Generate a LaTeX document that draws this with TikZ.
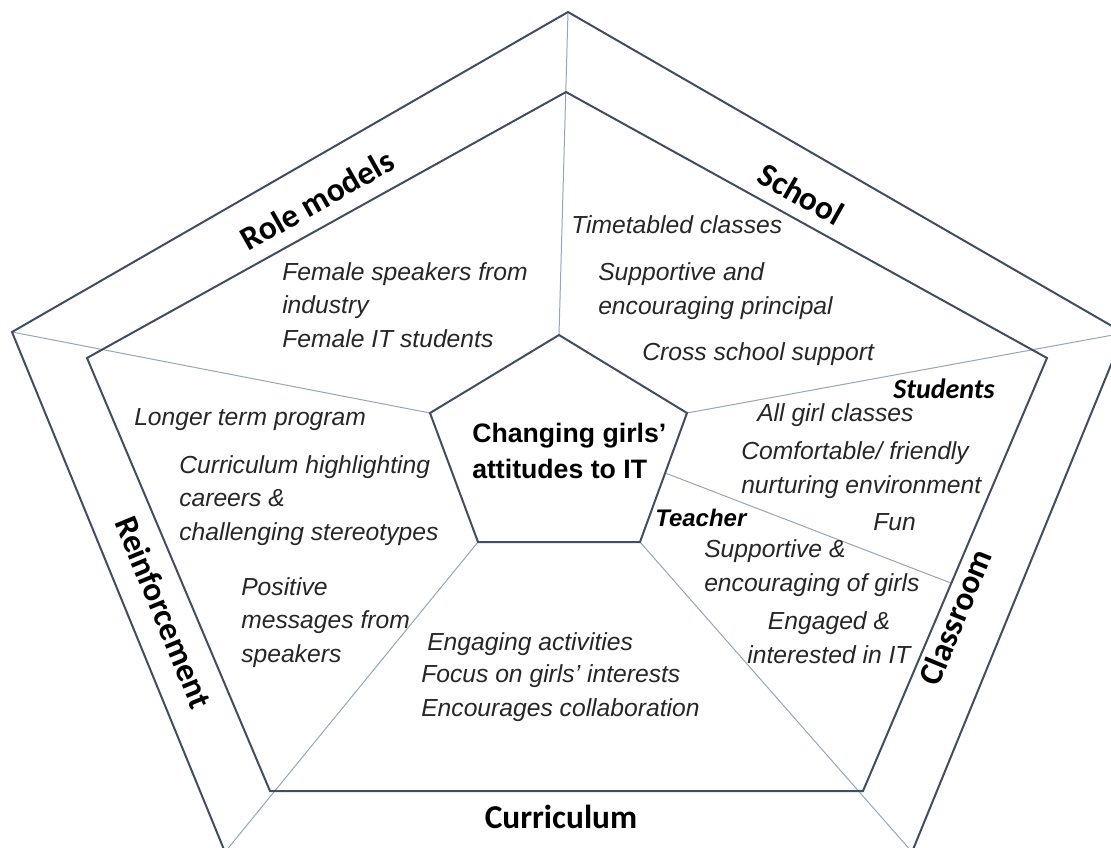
\documentclass[tikz,border=0pt]{standalone}
\usepackage{fontspec}
\setmainfont{Liberation Sans}
\newfontfamily\labelfont{Carlito}
\usetikzlibrary{calc}

\definecolor{rimcol}{RGB}{64,78,100}
\definecolor{spokecol}{RGB}{150,164,188}
\definecolor{itemcol}{RGB}{38,38,38}

\begin{document}
\begin{tikzpicture}[x=0.75pt, y=-0.75pt,
    every node/.style={inner sep=0pt, text=itemcol, font=\fontsize{18.5}{25}\selectfont\itshape},
    rim/.style={draw=rimcol, line width=1.5pt, line join=miter},
    spoke/.style={draw=spokecol, line width=0.75pt},
    area/.style={text=black, font=\labelfont\fontsize{25}{30}\selectfont\bfseries},
    items/.style={align=left, anchor=base west}]
    \useasboundingbox (0,0) rectangle (1111,847);

    % outer ring
    \coordinate (O1) at (568,12);
    \coordinate (O2) at (1124,333);
    \coordinate (O3) at (912,852);
    \coordinate (O4) at (225,852);
    \coordinate (O5) at (12,332);
    % middle ring
    \coordinate (M1) at (566,92);
    \coordinate (M2) at (1047,358);
    \coordinate (M3) at (863,791);
    \coordinate (M4) at (270,791);
    \coordinate (M5) at (87,358);
    % centre
    \coordinate (C1) at (559,335);
    \coordinate (C2) at (687,413);
    \coordinate (C3) at (640,542);
    \coordinate (C4) at (478,542);
    \coordinate (C5) at (430,413);

    % spokes
    \foreach \i in {1,...,5}
        \draw[spoke] (O\i) -- (C\i);
    \coordinate (T1) at ($(C2)!0.465!(C3)$);
    \coordinate (T2) at ($(M2)!0.52!(M3)$);
    \draw[spoke] (T1) -- (T2);

    \draw[rim] (O1) -- (O2) -- (O3) -- (O4) -- (O5) -- cycle;
    \draw[rim] (M1) -- (M2) -- (M3) -- (M4) -- (M5) -- cycle;
    \draw[rim] (C1) -- (C2) -- (C3) -- (C4) -- (C5) -- cycle;

    % ring labels
    \node[area, rotate=29.5] (rolemodels) at (317,200) {Role models};
    \node[area, rotate=-29.5] (school) at (801,194) {School};
    \node[area, rotate=-67.6] (reinforcement) at (164,612) {Reinforcement};
    \node[area, rotate=67.7] (classroom) at (955,617) {Classroom};
    \node[area] (curriculum) at (561,817) {Curriculum};

    % multi-line nodes sit on the baseline of their last line
    \node[items, text=black, font=\fontsize{20}{27}\selectfont\bfseries] (goal) at (472,478) {Changing girls'\\attitudes to IT};

    % role models
    \node[items] (speakers) at (282,347) {Female speakers from\\industry\\Female IT students};
    % school
    \node[items] (timetable) at (571,233) {Timetabled classes};
    \node[items] (principal) at (598,314) {Supportive and\\encouraging principal};
    \node[items] (crossschool) at (642,360) {Cross school support};
    % classroom
    \node[items, text=black, font=\labelfont\fontsize{21}{25}\selectfont\bfseries\itshape] (students) at (893,398) {Students};
    \node[items] (girlclasses) at (757,421) {All girl classes};
    \node[items] (friendly) at (741,493) {Comfortable/ friendly\\nurturing environment};
    \node[items] (fun) at (873,530) {Fun};
    \node[items, text=black, font=\fontsize{18}{25}\selectfont\bfseries\itshape] (teacher) at (655,526) {Teacher};
    \node[items] (supportive) at (704,591) {Supportive \&\\encouraging of girls};
    \node[align=center, anchor=base] (engaged) at (829,663) {Engaged \&\\interested in IT};
    % reinforcement
    \node[items] (longterm) at (134,425) {Longer term program};
    \node[items] (highlight) at (179,540) {Curriculum highlighting\\careers \&\\challenging stereotypes};
    \node[items] (messages) at (241,662) {Positive\\messages from\\speakers};
    % curriculum
    \node[items] (activities) at (427,650) {Engaging activities};
    \node[items] (interests) at (421,716) {Focus on girls' interests\\Encourages collaboration};
\end{tikzpicture}
\end{document}
